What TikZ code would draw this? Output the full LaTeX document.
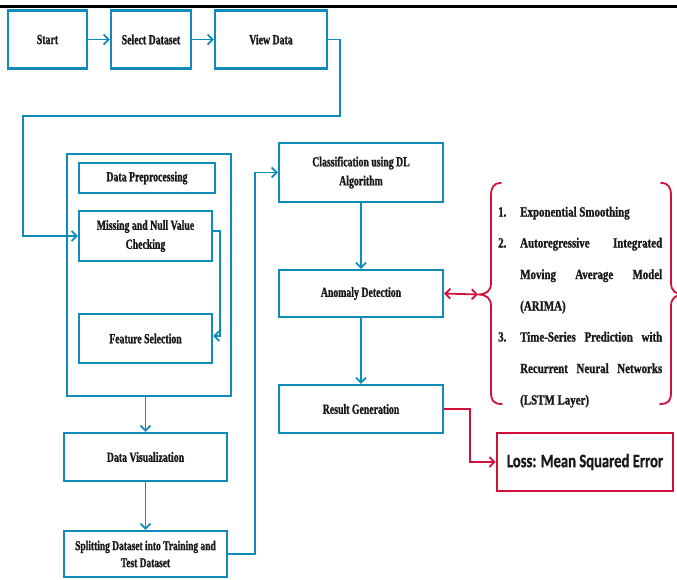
\documentclass[tikz,border=0pt]{standalone}
\usepackage{fontspec}
\usetikzlibrary{arrows.meta}
\newfontfamily\condserif{Liberation Serif Bold}[FakeStretch=0.7,FakeBold=1.2]
\newfontfamily\listserif{Liberation Serif Bold}[FakeStretch=0.78,FakeBold=1.2]
\newfontfamily\losssans{Carlito Bold}[FakeStretch=0.77,FakeBold=0.8]
\definecolor{flowblue}{RGB}{16,140,186}
\definecolor{flowred}{RGB}{210,16,60}
\definecolor{ink}{RGB}{25,25,25}
\begin{document}
\begin{tikzpicture}[x=1pt,y=-1pt,
  box/.style={draw=flowblue,line width=2.2pt,fill=white,inner sep=2pt,align=center,
    text=ink,font=\condserif\fontsize{14}{19}\selectfont},
  conn/.style={draw=flowblue,line width=1.8pt},
  arr/.style={conn,-{Straight Barb[length=5pt,width=10pt,line width=1.8pt]}},
  redconn/.style={draw=flowred,line width=1.8pt},
  redarr/.style={redconn,-{Straight Barb[length=5pt,width=10pt,line width=1.8pt]}},
  redboth/.style={redconn,{Straight Barb[length=5pt,width=10pt,line width=1.8pt]}-{Straight Barb[length=5pt,width=10pt,line width=1.8pt]}},
  brace/.style={draw=flowred,line width=1.8pt,line cap=round},
  li/.style={anchor=base west,inner sep=0pt,text=ink,font=\listserif\fontsize{14}{16}\selectfont}
]
\useasboundingbox (0,0) rectangle (677,579);
\clip (0,0) rectangle (677,579);
\fill[white] (0,0) rectangle (677,579);
% top rule
\draw[black,line width=3pt] (0,6.5) -- (677,6.5);

% nodes
\node[box,minimum width=79pt,minimum height=58pt] (start) at (47.5,39.5) {Start};
\node[box,minimum width=80pt,minimum height=58pt] (select) at (151,39.5) {Select Dataset};
\node[box,minimum width=112pt,minimum height=58pt] (view) at (271,39.5) {View Data};
\node[box,minimum width=164pt,minimum height=242pt] (outer) at (149,275) {};
\node[box,minimum width=136pt,minimum height=30pt] (prep) at (147,178) {Data Preprocessing};
\node[box,minimum width=133pt,minimum height=50pt] (missing) at (145.5,236) {Missing and Null Value\\Checking};
\node[box,minimum width=133pt,minimum height=49pt] (feature) at (145.5,338.5) {Feature Selection};
\node[box,minimum width=163pt,minimum height=48pt] (vis) at (145.5,457) {Data Visualization};
\node[box,minimum width=163pt,minimum height=46pt,font=\condserif\fontsize{13.5}{17}\selectfont] (split) at (145.5,554) {Splitting Dataset into Training and\\Test Dataset};
\node[box,minimum width=164pt,minimum height=59pt] (class) at (361,172.5) {Classification using DL\\Algorithm};
\node[box,minimum width=164pt,minimum height=47pt] (anomaly) at (361,293.5) {Anomaly Detection};
\node[box,minimum width=164pt,minimum height=48pt] (result) at (361,409) {Result Generation};
\node[draw=flowred,line width=2.6pt,fill=white,minimum width=176pt,minimum height=58pt,
  text=ink,font=\losssans\fontsize{19}{21}\selectfont] (loss) at (585,462) {Loss: Mean Squared Error};

% connectors
\draw[arr] (start) -- (select);
\draw[arr] (select) -- (view);
\draw[arr] (view.east) -- (340,39.5) -- (340,116) -- (23,116) -- (23,236) -- (missing.west);
\draw[arr] (missing.east |- 0,231) -- (220,231) -- (220,336) -- (feature.east |- 0,336);
\draw[arr] (vis.north |- outer.south) -- (vis.north);
\draw[arr] (vis.south) -- (split.north);
\draw[arr] (split.east) -- (255,554) -- (255,172.5) -- (class.west);
\draw[arr] (class.south) -- (anomaly.north);
\draw[arr] (anomaly.south) -- (result.north);
\coordinate (tip) at (478,294.5);
\draw[redboth] (anomaly.east) -- (tip);
\draw[redarr] (result.east) -- (470,409) -- (470,462) -- (loss.west);

% braces
\draw[brace] (501,183) .. controls (493,183) and (491,188) .. (491,196) -- (491,283)
  .. controls (491,291) and (486,294.5) .. (tip)
  .. controls (486,294.5) and (491,298) .. (491,306) -- (491,392)
  .. controls (491,400) and (493,404) .. (502,404);
\draw[brace] (661,183) .. controls (669,183) and (671,188) .. (671,196) -- (671,283)
  .. controls (671,291) and (676,294.5) .. (684,294.5)
  .. controls (676,294.5) and (671,298) .. (671,306) -- (671,392)
  .. controls (671,400) and (669,404) .. (660,404);

% list
\node[li] (n1) at (498,216.5) {1.};
\node[li] (l1) at (520,216.5) {Exponential Smoothing};
\node[li] (n2) at (498,247.5) {2.};
\node[li] (l2) at (520,247.5) {\makebox[142pt][s]{Autoregressive Integrated}};
\node[li] (l3) at (520,279) {\makebox[142pt][s]{Moving Average Model}};
\node[li] (l4) at (520,310.5) {(ARIMA)};
\node[li] (n3) at (498,341.5) {3.};
\node[li] (l5) at (520,341.5) {\makebox[142pt][s]{Time-Series Prediction with}};
\node[li] (l6) at (520,373) {\makebox[142pt][s]{Recurrent Neural Networks}};
\node[li] (l7) at (520,404.5) {(LSTM Layer)};
\end{tikzpicture}
\end{document}
